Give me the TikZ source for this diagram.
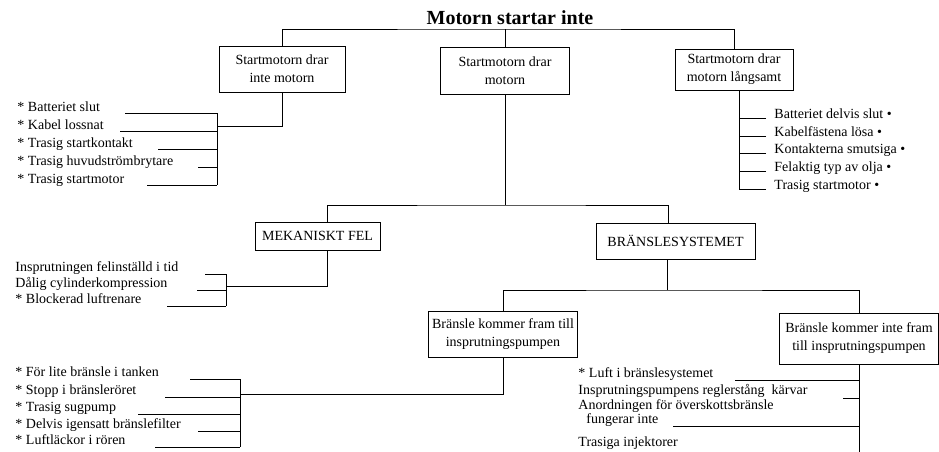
\documentclass[tikz,border=0pt]{standalone}
\usepackage{fontspec}
\setmainfont{Liberation Serif}
\usetikzlibrary{positioning}

\tikzset{
    box/.style={draw, rectangle, align=center, font=\fontsize{14}{18}\selectfont},
    cause/.style={anchor=base west, inner sep=0pt, font=\fontsize{14}{18}\selectfont},
}

\begin{document}
\begin{tikzpicture}[x=1pt, y=-1pt, line width=0.9pt]
    \useasboundingbox (0,0) rectangle (939,452);

    \node[anchor=base, font=\fontsize{20}{24}\bfseries\selectfont] (startarinte) at (510,25) {Motorn startar inte};
    \coordinate (topbar) at (510,29);

    \node[box, minimum width=126, minimum height=46] (drarinte) at (282,69) {Startmotorn drar\\inte motorn};
    \node[box, minimum width=129, minimum height=47] (drar) at (505,70.5) {Startmotorn drar\\motorn};
    \node[box, minimum width=118, minimum height=41] (langsamt) at (734,69.5) {Startmotorn drar\\motorn långsamt};
    \draw (drarinte.north) |- (topbar) -| (langsamt.north);
    \draw (drar.north) -- (drar.north |- topbar);

    % starter does not turn the engine
    \coordinate (drarinte-join) at (217,126);
    \draw (drarinte.south) |- (drarinte-join);
    \foreach \y/\xs/\txt [count=\i] in {113/125/{* Batteriet slut}, 131/120/{* Kabel lossnat}, 149/158/{* Trasig startkontakt}, 167/198/{* Trasig huvudströmbrytare}, 185/147/{* Trasig startmotor}} {
        \node[cause] (drarinte-\i) at (17,\y-2) {\txt};
        \coordinate (drarinte-\i-end) at (\xs,\y);
        \draw (drarinte-\i-end) -- (drarinte-\i-end -| drarinte-join);
    }
    \draw (drarinte-1-end -| drarinte-join) -- (drarinte-5-end -| drarinte-join);

    % starter turns the engine slowly
    \coordinate (langsamt-stem) at ([xshift=5pt]langsamt.south);
    \foreach \y/\txt [count=\i] in {118/{Batteriet delvis slut •}, 136/{Kabelfästena lösa •}, 153/{Kontakterna smutsiga •}, 171/{Felaktig typ av olja •}, 189/{Trasig startmotor •}} {
        \coordinate (langsamt-\i-end) at (766,\y);
        \node[cause] (langsamt-\i) at (774,\y) {\txt};
        \draw (langsamt-\i-end) -- (langsamt-\i-end -| langsamt-stem);
    }
    \draw (langsamt-stem) -- (langsamt-stem |- langsamt-5-end);

    % starter turns the engine
    \node[box, minimum width=125, minimum height=28] (mekfel) at (317.5,236) {MEKANISKT FEL};
    \node[box, minimum width=159, minimum height=36] (bransle) at (675.5,241) {BRÄNSLESYSTEMET};
    \coordinate (drar-join) at (505,205);
    \draw (drar.south) -- (drar-join);
    \draw ([xshift=10pt]mekfel.north) |- (drar-join) -| ([xshift=-7.5pt]bransle.north);

    \coordinate (mekfel-join) at (226,286);
    \draw ([xshift=10pt]mekfel.south) |- (mekfel-join);
    \foreach \y/\xs/\txt [count=\i] in {274/205/{Insprutningen felinställd i tid}, 290/197/{Dålig cylinderkompression}, 306/167/{* Blockerad luftrenare}} {
        \node[cause] (mekfel-\i) at (15,\y-3) {\txt};
        \coordinate (mekfel-\i-end) at (\xs,\y);
        \draw (mekfel-\i-end) -- (mekfel-\i-end -| mekfel-join);
    }
    \draw (mekfel-1-end -| mekfel-join) -- (mekfel-3-end -| mekfel-join);

    % fuel system
    \node[box, minimum width=138, minimum height=46] (framtill) at (503,334) {Bränsle kommer fram till\\insprutningspumpen};
    \node[box, minimum width=159, minimum height=51] (intefram) at (859,338.5) {Bränsle kommer inte fram\\till insprutningspumpen};
    \coordinate (bransle-join) at (667,290);
    \draw ([xshift=-8.5pt]bransle.south) -- (bransle-join);
    \draw (framtill.north) |- (bransle-join) -| (intefram.north);

    \coordinate (framtill-join) at (240,394);
    \draw (framtill.south) |- (framtill-join);
    \foreach \y/\xs/\txt [count=\i] in {379/190/{* För lite bränsle i tanken}, 397/165/{* Stopp i bränsleröret}, 414/138/{* Trasig sugpump}, 431/198/{* Delvis igensatt bränslefilter}, 447/155/{* Luftläckor i rören}} {
        \node[cause] (framtill-\i) at (15,\y-3) {\txt};
        \coordinate (framtill-\i-end) at (\xs,\y);
        \draw (framtill-\i-end) -- (framtill-\i-end -| framtill-join);
    }
    \draw (framtill-1-end -| framtill-join) -- (framtill-5-end -| framtill-join);

    \coordinate (intefram-foot) at (859,460);
    \draw (intefram.south) -- (intefram-foot);
    \node[cause] (luft) at (578,377) {* Luft i bränslesystemet};
    \node[cause] (reglerstang) at (578,394) {Insprutningspumpens reglerstång\ \ kärvar};
    \node[cause] (anordningen) at (578,409) {Anordningen för överskottsbränsle};
    \node[cause] (fungerar) at (586,423) {fungerar inte};
    \node[cause] (injektorer) at (578,446) {Trasiga injektorer};
    \foreach \y/\xs in {380/735, 398/843, 426/673} {
        \coordinate (cut) at (\xs,\y);
        \draw (cut) -- (cut -| intefram-foot);
    }
\end{tikzpicture}
\end{document}
